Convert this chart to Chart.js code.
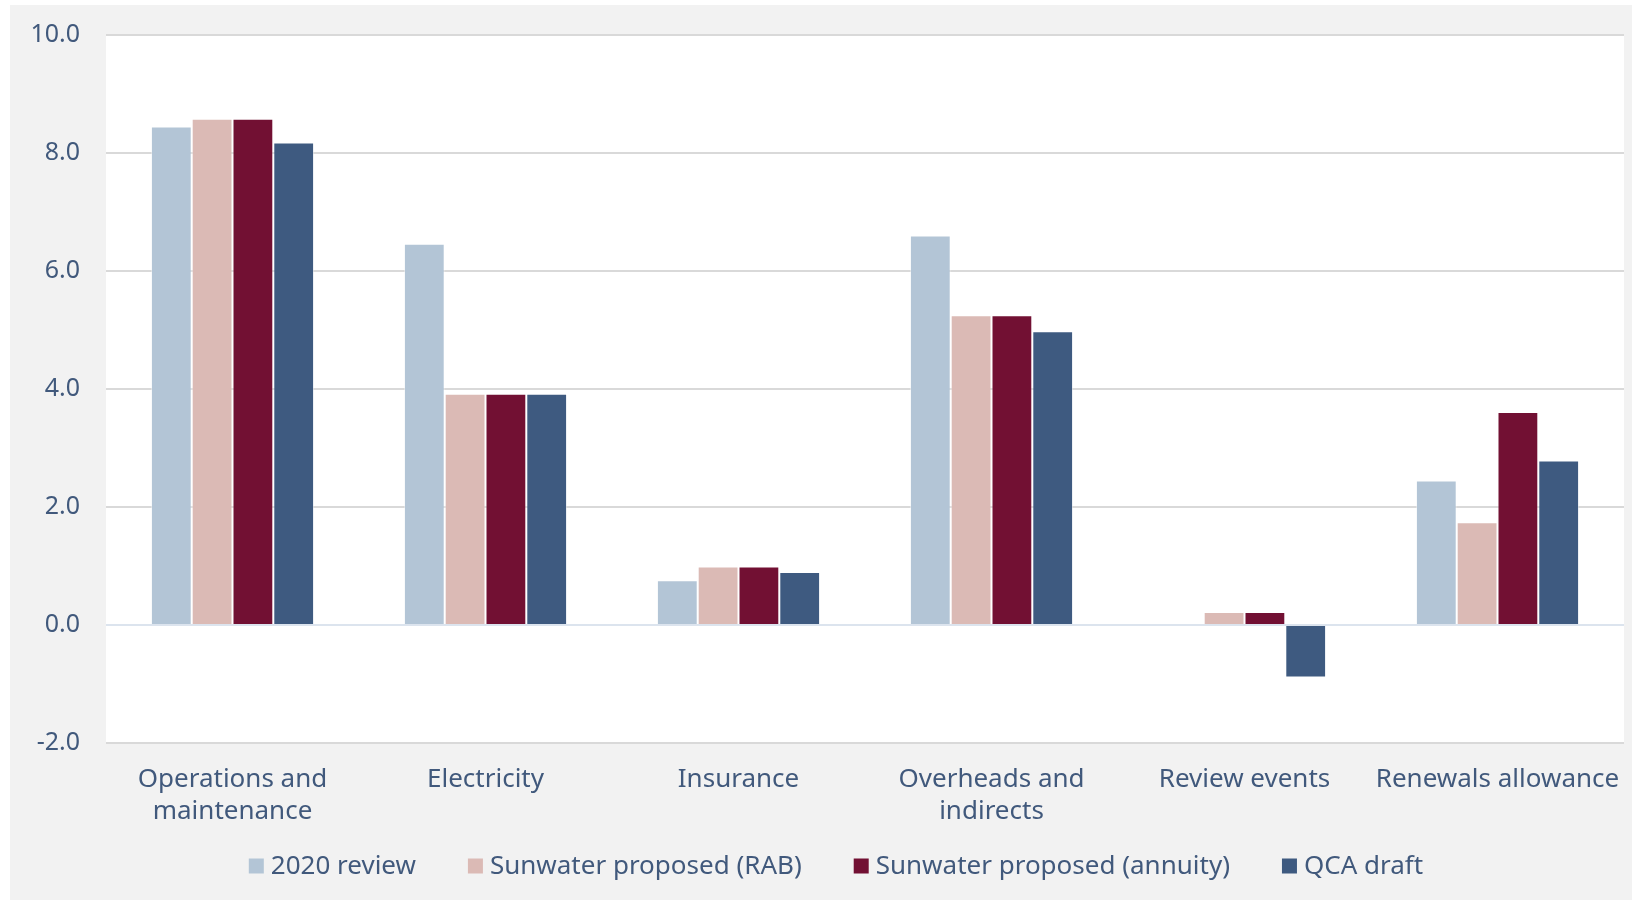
<!DOCTYPE html>
<html>
<head>
<meta charset="utf-8">
<script src="https://cdn.jsdelivr.net/npm/chart.js@4.4.1/dist/chart.umd.min.js"></script>
<style>
  html, body { margin: 0; padding: 0; background: #ffffff; }
  #wrap { position: absolute; left: 10px; top: 5px; width: 1622px; height: 895px; background: #f2f2f2; }
</style>
</head>
<body>
<div id="wrap"><canvas id="myChart"></canvas></div>
<script>
var categories = [
  ["Operations and", "maintenance"],
  "Electricity",
  "Insurance",
  ["Overheads and", "indirects"],
  "Review events",
  "Renewals allowance"
];
var review2020 = [8.45, 6.46, 0.76, 6.60, 0, 2.45];
var proposedRab = [8.58, 3.92, 0.99, 5.25, 0.22, 1.74];
var proposedAnnuity = [8.58, 3.92, 0.99, 5.25, 0.22, 3.61];
var qcaDraft = [8.18, 3.92, 0.90, 4.98, -0.89, 2.79];
var yTicks = [-2, 0, 2, 4, 6, 8, 10];

var textColor = "#41597c";
var fontFamily = "'Noto Sans', sans-serif";

// white plot area on the grey card
var plotBackground = {
  id: "plotBackground",
  beforeDraw: function (chart) {
    var a = chart.chartArea;
    var ctx = chart.ctx;
    ctx.save();
    ctx.fillStyle = "#ffffff";
    ctx.fillRect(a.left, a.top, a.right - a.left, a.bottom - a.top);
    ctx.restore();
  }
};

// legend drawn by hand so the box/text gaps match the original
var bottomLegend = {
  id: "bottomLegend",
  afterDraw: function (chart) {
    var ctx = chart.ctx;
    var box = 15, boxGap = 7, itemGap = 52;
    var centerX = 826, centerY = 861;
    ctx.save();
    ctx.font = "26px " + fontFamily;
    ctx.textBaseline = "middle";
    var sets = chart.data.datasets;
    var widths = sets.map(function (d) { return box + boxGap + ctx.measureText(d.label).width; });
    var total = widths.reduce(function (a, b) { return a + b; }, 0) + itemGap * (sets.length - 1);
    var x = centerX - total / 2;
    sets.forEach(function (d, i) {
      ctx.fillStyle = d.backgroundColor;
      ctx.fillRect(x, centerY - box / 2, box, box);
      ctx.fillStyle = textColor;
      ctx.fillText(d.label, x + box + boxGap, centerY + 1);
      x += widths[i] + itemGap;
    });
    ctx.restore();
  }
};

function bars(label, data, color) {
  return {
    label: label,
    data: data,
    backgroundColor: color,
    borderColor: "rgba(255,255,255,0.45)",
    borderWidth: 1,
    categoryPercentage: 0.645,
    barPercentage: 1.0
  };
}

new Chart("myChart", {
  type: "bar",
  data: {
    labels: categories,
    datasets: [
      bars("2020 review", review2020, "#b3c5d6"),
      bars("Sunwater proposed (RAB)", proposedRab, "#dbbab5"),
      bars("Sunwater proposed (annuity)", proposedAnnuity, "#721033"),
      bars("QCA draft", qcaDraft, "#3e5a80")
    ]
  },
  plugins: [plotBackground, bottomLegend],
  options: {
    responsive: true,
    maintainAspectRatio: false,
    animation: false,
    layout: { autoPadding: false, padding: { left: 0, right: 8, top: 30, bottom: 67 } },
    plugins: {
      legend: { display: false },
      tooltip: { enabled: false },
      title: { display: false }
    },
    scales: {
      x: {
        grid: { display: false, drawTicks: false },
        border: { display: false },
        ticks: {
          color: textColor,
          padding: 21,
          maxRotation: 0,
          autoSkip: false,
          font: { family: fontFamily, size: 26, lineHeight: 1.22 }
        },
        afterFit: function (scale) {
          scale.height = 90;
          scale.paddingLeft = 0;
          scale.paddingRight = 0;
        }
      },
      y: {
        min: -2,
        max: 10,
        afterBuildTicks: function (scale) {
          scale.ticks = yTicks.map(function (v) { return { value: v }; });
        },
        grid: {
          drawTicks: false,
          lineWidth: 2,
          color: function (ctx) {
            return ctx.tick && ctx.tick.value === 0 ? "#dce4ee" : "#d9d9d9";
          }
        },
        border: { display: false },
        ticks: {
          color: textColor,
          padding: 26,
          font: { family: fontFamily, size: 25 },
          callback: function (v) { return Number(v).toFixed(1); }
        },
        afterFit: function (scale) {
          scale.width = 96;
          scale.paddingTop = 0;
          scale.paddingBottom = 0;
        }
      }
    }
  }
});
</script>
</body>
</html>
